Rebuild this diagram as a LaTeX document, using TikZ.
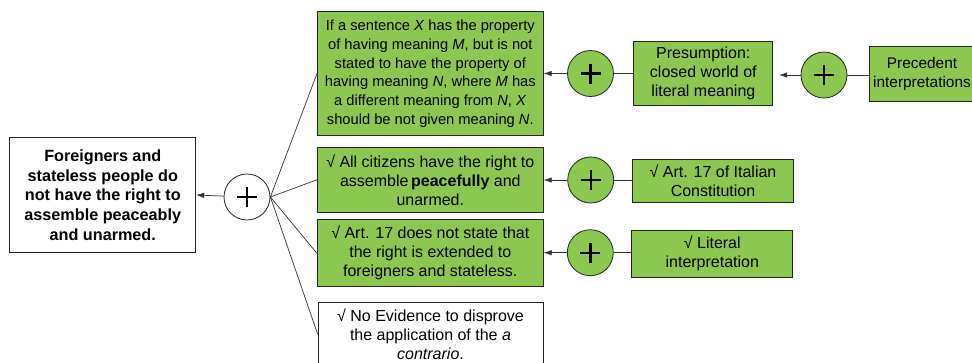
\documentclass[tikz,border=0pt]{standalone}
\usepackage{fontspec}
\setmainfont{Liberation Sans}
\usetikzlibrary{arrows.meta}
\definecolor{boxgreen}{RGB}{140,200,80}
\definecolor{linegray}{RGB}{50,50,50}
\tikzset{
  txt/.style={font=\fontsize{16}{19}\selectfont, align=center, inner sep=0pt, draw=black!85, line width=0.8pt},
  greenbox/.style={txt, fill=boxgreen},
  whitebox/.style={txt, fill=white},
  plusnode/.style={circle, draw=black!85, line width=0.8pt, minimum size=46pt, inner sep=0pt,
    path picture={\draw[line width=2.4pt, black] (path picture bounding box.center) ++(-10pt,0pt) -- ++(20pt,0pt)
      (path picture bounding box.center) ++(0pt,-10pt) -- ++(0pt,20pt);}},
  conn/.style={draw=linegray, line width=0.7pt},
  arr/.style={conn, -{Latex[length=8pt,width=5.5pt]}}
}
\begin{document}
\begin{tikzpicture}[x=1pt,y=-1pt]
\useasboundingbox (0,0) rectangle (972,362);
% conclusion
\node[whitebox, minimum width=186pt, minimum height=115pt, font=\fontsize{16.2}{19.7}\selectfont\bfseries]
  (concl) at (102.8,195) {Foreigners and\\stateless people do\\not have the right to\\assemble peaceably\\and unarmed.};
\node[plusnode, fill=white] (mainplus) at (247,197) {};
% middle column
\node[greenbox, minimum width=226pt, minimum height=124pt, font=\fontsize{14.7}{18.7}\selectfont] (b1) at (430.3,73.8)
  {If a sentence \textit{X} has the property\\of having meaning \textit{M}, but is not\\stated to have the property of\\having meaning \textit{N}, where \textit{M} has\\a different meaning from \textit{N}, \textit{X}\\should be not given meaning \textit{N}.};
\node[greenbox, minimum width=226pt, minimum height=65pt] (b2) at (430.3,179.8)
  {√ All citizens have the right to\\assemble\,\textbf{peacefully} and\\unarmed.};
\node[greenbox, minimum width=226pt, minimum height=67pt] (b3) at (430.3,253.3)
  {√ Art. 17 does not state that\\the right is extended to\\foreigners and stateless.};
\node[whitebox, minimum width=225pt, minimum height=64pt] (b4) at (430.5,334)
  {√ No Evidence to disprove\\the application of the \textit{a}\\\textit{contrario}.};
% plus circles
\node[plusnode, fill=boxgreen] (p1) at (590.5,73.5) {};
\node[plusnode, fill=boxgreen] (p2) at (590.7,180) {};
\node[plusnode, fill=boxgreen] (p3) at (590.3,252.7) {};
\node[plusnode, fill=boxgreen] (p4) at (824,75) {};
% right column
\node[greenbox, minimum width=139pt, minimum height=64pt] (pres) at (703.3,73.8)
  {Presumption:\\closed world of\\literal meaning};
\node[greenbox, minimum width=106pt, minimum height=55pt, font=\fontsize{15.4}{19}\selectfont] (prec) at (922,74.3)
  {Precedent\\interpretations};
\node[greenbox, minimum width=161pt, minimum height=43pt] (art) at (713,180.6)
  {√ Art. 17 of Italian\\Constitution};
\node[greenbox, minimum width=161pt, minimum height=47pt] (lit) at (712.3,253.6)
  {√ Literal\\interpretation};
% connectors
\draw[arr] (mainplus) -- (concl.east);
\draw[conn] (mainplus.east) -- (b1.west);
\draw[conn] (mainplus.east) -- (b2.west);
\draw[conn] (mainplus.east) -- (b3.west);
\draw[conn] (mainplus.east) -- (b4.west);
\draw[arr] (p1) -- (b1.east |- p1);
\draw[arr] (p2) -- (b2.east |- p2);
\draw[arr] (p3) -- (b3.east |- p3);
\draw[conn] (pres.west |- p1) -- (p1);
\draw[conn] (art.west |- p2) -- (p2);
\draw[conn] (lit.west |- p3) -- (p3);
\draw[arr, shorten >=6pt] (p4) -- (pres.east |- p4);
\draw[conn] (prec.west |- p4) -- (p4);
\end{tikzpicture}
\end{document}
